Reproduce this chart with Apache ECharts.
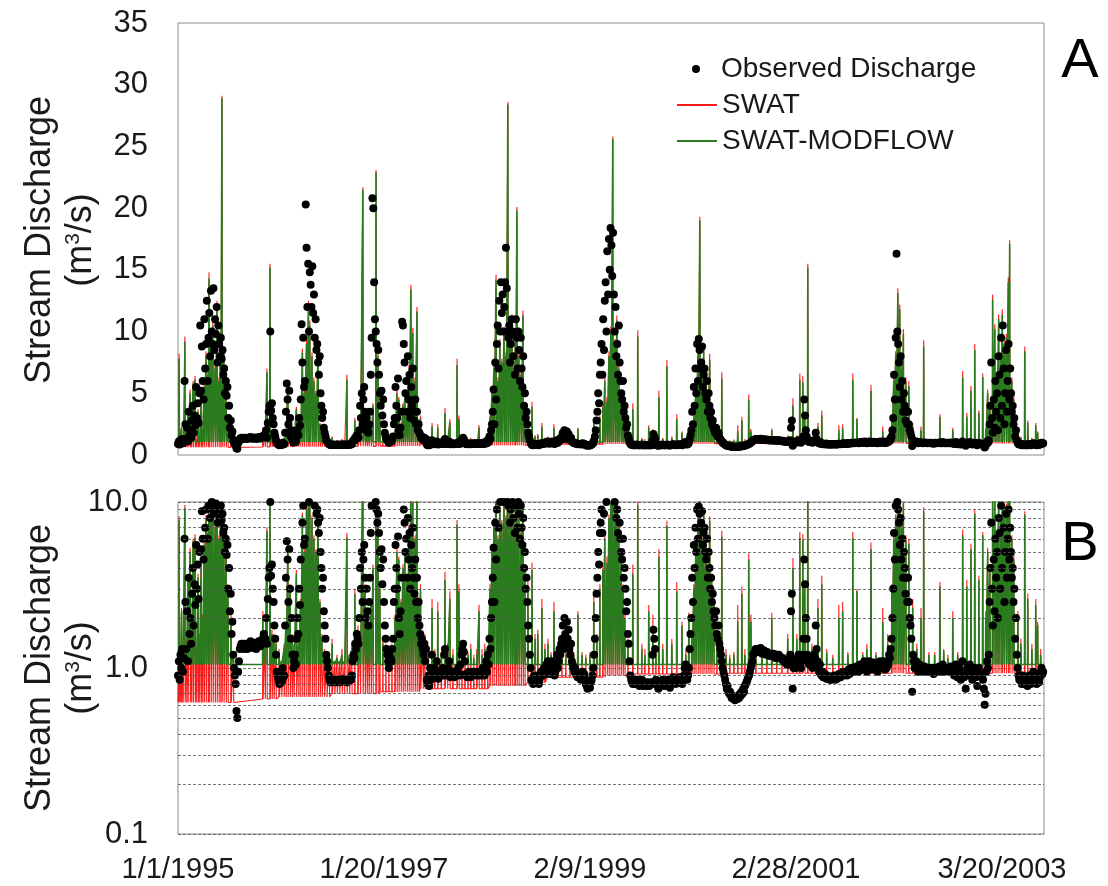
<!DOCTYPE html>
<html>
<head>
<meta charset="utf-8">
<script src="https://cdn.jsdelivr.net/npm/echarts@6/dist/echarts.min.js"></script>
<style>html,body{margin:0;padding:0;background:#fff}#c{width:1108px;height:886px}</style>
</head>
<body>
<div id="c"></div>
<script>
// ---------------- DATA ----------------
// x values are days counted from 1/1/1995
const END_DAY = 3153;
const xTickLabels = ['1/1/1995', '1/20/1997', '2/9/1999', '2/28/2001', '3/20/2003'];
const yTicksA = [0, 5, 10, 15, 20, 25, 30, 35];
const yTicksB = [0.1, 1.0, 10.0];
const minorGridB = [0.2, 0.3, 0.4, 0.5, 0.6, 0.7, 0.8, 0.9, 2, 3, 4, 5, 6, 7, 8, 9];

// Observed discharge (m3/s), one reading every 3 days, consecutive blocks of 122 readings
const OBS_STEP = 3;
const obs1995 = [0.9,1.1,0.85,1.2,1.0,1.3,0.95,1.15, 6.0,2.5, 1.3,2.2,1.1,3.5,1.6,2.0,1.4,2.8,
 4.0,1.8,3.2,2.4,5.5,3.0,4.2,2.6,5.0, 10.5,5.2,8.8,6.0,4.5,11.0,7.0,9.0,12.5,6.0,
 9.5,11.5,8.0,13.3,10.0,9.0,13.5,8.5,11.0,9.8,12.0,7.5,10.5,9.0,8.0,
 9.5,7.8,8.5,6.5,7.0,5.0,6.0,4.8,5.5,3.0,4.0, 2.2,2.8,1.6,1.9,1.2, 1.0,0.9,0.8,0.55,0.5,0.95,
 1.1,1.3,1.35,1.4,1.35,1.4,1.3,1.35,1.4,1.35,1.3,1.4,1.35,1.4,1.45,1.38,1.32,1.4,1.36,1.42,1.35,1.3,1.38,1.4,1.45,1.4,1.35,1.42,1.48,
 1.5,1.6,1.45,1.5,2.0,1.4,2.6,3.5,4.0,10.0,3.6,4.2,3.0,2.5,1.8,1.5,1.2,0.95,0.9];
const obs1996 = [0.85,0.8,0.9,0.85,0.82,1.0,0.88,0.9, 1.8,3.5,5.8,4.5,2.5,5.2,3.0,1.5,2.0,1.2,
 1.0,1.1,1.2,1.05,1.5,2.0,1.6,3.0,2.4,4.5, 10.6,7.5,9.5,5.5,6.0,20.3,16.8,12.0,15.5,10.0,14.8,
 13.8,12.0,15.3,11.5,13.0,9.5,11.0,8.5,9.0,7.5,6.5,8.0, 5.0,4.0,3.0,3.5,2.2,1.8,1.5,1.2,1.1,1.0,0.9,0.85,
 0.82,0.84,0.83,0.85,0.82,0.84,0.83,0.82,0.84,0.85,0.83,0.82,0.84,0.83,0.85,0.84,0.86,0.83,0.85,0.84,0.82,0.85,0.83,0.84,0.86,0.85,0.9,
 1.1,1.2,1.15,1.4,1.3,1.6,1.5,1.4,2.0,4.0,3.0,5.0,2.5,4.5,5.5,3.5,2.0,3.0,2.2,1.8,2.5,3.5,6.5,9.5,
 20.8,20.0,14.0,11.0,10.0,9.0,7.5,8.5];
const obs1997 = [6.5,5.0,4.0,5.2,3.2,4.5,2.5,1.8, 1.5,1.3,1.2,1.1,1.0,1.2,1.15,1.1,1.3,
 1.5,2.5,3.0,5.5,4.0,3.0,6.2,2.0,1.6,2.2,3.5,
 10.8,10.5,9.0,7.5,5.0,6.0,3.5,8.0,4.5,6.5,3.0,5.5,4.0,7.0,3.5,2.8,4.5,2.5,
 3.5,2.0,2.5,1.8,1.6,1.4,1.5,1.3,1.2,
 1.4,1.1,1.3,0.85,0.8,0.9,0.78,1.0,0.85,1.2,0.95,0.9,1.0,0.88,0.92,1.1,0.9,0.86,0.95,0.9,
 0.9,0.95,1.0,0.9,1.2,1.3,0.95,0.9,0.92,1.0,1.1,0.9,0.88,0.92,0.95,0.9,0.88,0.92,0.94,0.9,
 0.96,1.0,0.92,0.9,1.05,1.2,1.3,1.4,1.25,1.1,0.92,0.9,0.88,0.9,0.95,0.9,0.88,0.9,0.92,0.95,
 0.9,0.93,0.95,0.92,0.9,0.93,0.95];
const obs1998 = [0.9,0.92,0.95,0.9,1.0,0.95,0.9,1.0,1.1,0.95,1.2,1.05,1.5,1.3,2.0,2.5,
 3.5,5.3,2.5,7.5,4.5,9.0,10.5,7.0,12.5,10.0,14.0,11.5,13.0,10.0,12.0,14.0,16.8,13.5,10.0,
 9.5,10.5,7.5,9.0,11.0,10.0,8.0,9.8,6.5,11.0,9.5,7.0,10.0,8.5,6.0,
 9.5,7.0,5.5,8.0,4.0,5.0,3.0,3.5,2.5,1.8,
 1.5,1.2,1.0,0.85,0.82,0.8,0.9,0.85,0.82,0.88,0.9,0.84,0.8,0.86,0.9,0.95,
 0.95,0.9,1.0,0.92,0.98,1.05,0.95,1.1,1.0,0.92,1.0,1.05,1.1,0.95,1.0,0.9,0.95,1.05,1.2,1.0,1.1,1.3,1.2,1.4,
 1.5,1.8,1.3,2.0,1.6,1.4,1.9,1.5,1.7,1.3,1.2,1.4,1.1,1.05,1.0,0.95,1.0,0.92, 0.9,0.88,0.92,0.9];
const obs1999 = [0.9,0.85,0.9,0.95,0.88,0.92,0.85,0.8,0.78,0.75,0.78,0.8,0.76,0.82,0.85,
 0.9,1.0,1.2,1.5,2.0,2.8,3.5,5.0,4.2,6.5,
 7.5,9.0,6.5,11.0,8.5,12.5,14.0,10.0,16.5,13.0,17.5,15.0,18.4,17.0,14.5,18.0,
 13.0,10.0,12.0,8.0,9.0,6.5,10.5,7.5,6.0, 5.0,4.5,6.0,3.5,4.0,3.0,2.2,2.5,1.6,1.4,
 1.1,0.9,0.85,0.82,0.8,0.85,0.8,0.82,0.8,0.85,0.82,0.8,0.78,0.8,0.82,0.85,0.8,0.78,0.8,0.82,0.8,0.78,0.82,
 0.8,0.78,0.8,0.82,0.8,1.2,1.7,1.5,1.3,0.85,0.8,0.78,0.75,0.8,0.82,0.78,0.8,0.85,0.82,0.8,
 0.78,0.8,0.82,0.85,0.8,0.78,0.76,0.8,0.82,0.85,0.88,0.85,0.82,0.8,0.84,0.86,0.82,0.85,0.88];
const obs2000 = [0.85,0.82,0.8,0.85,0.9,1.0,1.05,0.88,0.85,0.9,1.0,1.3,1.6,2.0,
 3.5,2.5,5.5,4.0,7.0,5.0,9.0,6.0,9.4,8.5,7.0,7.5,8.8,5.5,6.5,7.0,5.0,4.5,6.0,3.5,5.0,4.0,3.0,3.5,2.5,2.8,2.2,
 2.0,1.8,2.2,1.6,1.5,1.8,1.4,1.3,1.2,1.1,1.0,0.95,0.9,0.85,
 0.8,0.75,0.78,0.72,0.7,0.72,0.68,0.66,0.68,0.65,0.66,0.64,0.65,0.66,0.65,0.68,0.66,0.7,0.68,0.72,
 0.7,0.75,0.72,0.78,0.8,0.82,0.85,0.88,0.9,0.95,1.0,1.05,1.1,1.2,
 1.22,1.25,1.3,1.28,1.3,1.25,1.28,1.3,1.32,1.25,1.22,1.25,1.28,1.25,1.22,1.2,1.25,1.22,1.2,1.18,
 1.22,1.2,1.18,1.2,1.22,1.18,1.15,1.2,1.18,1.15,1.2,1.18,1.15];
const obs2001 = [1.15,1.12,1.15,1.1,1.12,1.08,1.1,1.05,
 1.1,1.05,1.1,1.2,2.2,2.8,0.75,1.0,1.1,1.05,1.0,1.1,1.15,1.2,1.1,1.05,1.0,1.1,1.2,1.5,4.5,3.2,2.0,1.5,1.2,1.1,1.05,1.15,
 1.1,1.05,1.0,1.1,1.2,1.15,1.8,1.3,1.1,1.0,0.95,1.05,0.92,0.9,0.95,0.88,0.9,0.92,0.88,0.86,0.9,
 0.88,0.86,0.85,0.87,0.85,0.88,0.86,0.9,0.88,0.85,0.87,0.86,0.88,0.92,0.9,0.88,0.9,0.92,0.95,0.9,
 0.93,0.95,0.92,0.9,0.95,0.98,0.92,0.95,1.0,0.95,0.98,1.0,0.95,0.98,1.02,0.97,1.0,0.95,1.0,1.05,
 1.0,1.05,0.98,1.0,1.1,1.05,1.0,0.95,1.0,1.05,1.1,1.0,0.98,1.05,1.0,1.08,1.02,0.98,1.0,1.05,0.95,1.0,1.05,1.1,1.0];
const obs2002 = [1.0,1.05,1.1,1.0,0.98,1.05,1.0,1.1,1.05,1.2,1.15,1.3,1.5,2.0,
 3.0,6.5,4.5,9.5,16.3,10.0,9.0,7.5,5.5,8.0,4.5,6.0,3.5,5.0,4.0,2.8,3.5,2.5,
 3.5,2.5,2.0,1.8,1.5,0.72,1.2,1.1,
 1.0,1.05,1.1,1.0,0.95,1.0,1.05,1.0,0.98,1.0,0.95,1.0,1.02,0.98,1.0,0.95,0.98,1.0,0.97,0.95,
 1.0,0.98,0.95,0.92,0.95,1.0,0.98,0.95,0.97,1.0,1.02,0.98,0.95,1.0,1.05,0.98,0.95,0.97,1.0,0.96,
 0.98,1.0,0.95,0.98,1.02,0.96,0.95,
 0.95,0.9,1.0,1.05,0.92,0.88,0.9,1.0,0.95,0.85,0.9,1.1,0.95,0.88,0.9,0.75,0.92,1.0,0.95,0.9,
 1.05,0.98,0.92,0.85,0.9,1.0,0.95,0.88,0.92,0.78,0.95,1.0,0.92,0.9,0.88];
const obs2003 = [0.9,0.85,0.75,0.6,0.7,0.95,1.1,1.0,
 1.2,2.5,4.0,7.5,3.0,1.8,4.5,2.2,6.0,3.5,5.0,2.0,8.0,6.5,3.0,9.5,4.0,10.5,7.0,2.5,5.0,8.5,3.5,6.0,9.0,4.5,7.0,5.0,
 3.5,4.0,2.5,3.0,1.5,2.0,1.2,1.0,0.9,0.85,0.9,
 0.85,0.8,0.9,0.85,0.8,0.82,0.88,0.8,0.78,0.85,0.9,0.82,0.8,0.85,0.9,0.95,0.92,0.88,0.82,0.8,
 0.85,0.9,0.82,0.88,0.95,1.0,0.92,0.95];

// Simulated runoff events: [day, SWAT-MODFLOW peak, SWAT peak]
const ev1995 = [[2,1.3,1.35],[4,7.8,8.2],[9,1.2,1.3],[13,2.2,2.3],[18,1.1,1.1],[25,9.2,9.6],[31,1.4,1.5],[36,3.4,3.6],[44,5.0,5.3],[49,1.3,1.4],[55,5.8,6.0],[62,6.1,6.4],[67,1.2,1.3],[73,3.5,3.7],[78,1.5,1.6],[84,4.0,4.2],[89,2.0,2.1],[95,5.5,5.8],[102,8.0,8.4],[109,6.5,6.8],[113,14.3,14.8],[120,9.0,9.4],[127,10.5,11.0],[135,7.0,7.3],[142,12.0,12.5],[149,6.0,6.3],[155,9.5,9.9],[160,28.9,29.1],[167,8.3,8.7],[175,5.0,5.3],[182,3.0,3.2],[193,2.0,2.1],[202,1.2,1.25],
 [309,2.0,2.2],[317,1.5,1.6],[324,6.7,7.0],[335,15.2,15.5],[342,1.6,1.7],[349,1.5,1.6],[357,1.4,1.5]];
const ev1996 = [[368,1.2,1.3],[377,1.1,1.1],[386,1.3,1.4],[393,1.8,1.9],[400,5.8,6.1],[408,3.0,3.2],[415,1.5,1.6],[422,1.3,1.4],[431,3.7,3.9],[439,1.4,1.5],[446,2.5,2.6],[453,8.3,8.6],[460,5.0,5.2],[468,9.0,9.3],[475,12.1,12.5],[480,10.5,10.9],[488,8.0,8.3],[495,6.0,6.3],[502,5.0,5.2],[510,8.5,8.9],[517,2.5,2.6],[524,1.5,1.6],[533,1.2,1.3],[542,1.1,1.15],[551,1.2,1.2],[561,1.4,1.5],[570,1.1,1.1],[579,1.15,1.2],[588,1.1,1.1],[597,1.2,1.3],[606,1.1,1.1],[615,6.1,6.5],[624,1.2,1.2],[633,1.3,1.4],[644,2.8,3.0],[655,1.7,1.8],[664,1.5,1.6],[673,21.5,21.7],[681,3.0,3.2],[688,2.2,2.3],[695,1.8,1.9],[703,2.5,2.6],[710,4.0,4.2],[721,22.9,23.1],[728,8.0,8.3]];
const ev1997 = [[735,3.0,3.2],[746,1.4,1.5],[757,1.3,1.4],[768,1.2,1.3],[779,1.3,1.4],[790,2.0,2.1],[797,5.0,5.3],[804,4.5,4.7],[812,2.5,2.6],[819,4.0,4.2],[826,5.0,5.2],[834,3.5,3.7],[841,7.0,7.3],[848,13.4,13.8],[855,9.9,10.3],[863,6.0,6.3],[870,11.6,12.0],[877,2.5,2.7],[883,3.0,3.2],[892,1.4,1.5],[899,1.5,1.6],[910,1.2,1.3],[925,2.3,2.6],[935,1.2,1.3],[946,2.2,2.5],[959,1.2,1.25],[972,3.4,3.8],[981,1.3,1.4],[990,2.6,2.9],[1001,1.2,1.3],[1016,7.3,7.8],[1023,2.9,3.2],[1034,1.2,1.3],[1045,1.3,1.4],[1056,1.2,1.25],[1066,1.3,1.4],[1077,1.15,1.2],[1088,1.2,1.3]];
const ev1998 = [[1096,2.2,2.4],[1107,1.2,1.3],[1117,1.3,1.4],[1128,1.2,1.25],[1136,3.0,3.2],[1143,5.0,5.3],[1150,7.0,7.3],[1158,14.2,14.6],[1165,6.0,6.3],[1172,9.0,9.4],[1179,7.5,7.8],[1187,10.0,10.4],[1194,8.0,8.3],[1201,28.4,28.6],[1209,9.5,9.9],[1216,11.0,11.4],[1223,7.0,7.3],[1228,9.0,9.3],[1234,19.8,20.1],[1241,8.0,8.3],[1249,6.5,6.8],[1256,11.3,11.7],[1263,4.0,4.2],[1274,3.0,3.3],[1289,3.9,4.3],[1300,1.5,1.6],[1310,1.6,1.7],[1325,2.3,2.6],[1336,1.3,1.4],[1347,1.4,1.5],[1358,1.2,1.25],[1369,2.2,2.5],[1383,1.2,1.25],[1398,1.15,1.2],[1412,1.2,1.25],[1427,1.15,1.2],[1441,1.2,1.25],[1456,2.1,2.2]];
const ev1999 = [[1471,1.2,1.25],[1485,1.15,1.2],[1500,1.2,1.25],[1514,2.5,2.8],[1525,1.5,1.6],[1536,3.0,3.2],[1547,3.9,4.3],[1554,6.0,6.3],[1562,4.3,4.7],[1569,8.0,8.4],[1576,10.0,10.4],[1583,25.6,25.8],[1591,9.0,9.4],[1598,10.9,11.3],[1605,7.0,7.3],[1613,5.0,5.2],[1620,3.0,3.2],[1627,2.0,2.1],[1638,1.4,1.5],[1656,3.7,4.2],[1674,9.6,10.1],[1689,1.3,1.4],[1700,1.2,1.3],[1714,2.2,2.4],[1729,1.6,2.1],[1740,1.2,1.3],[1751,4.7,5.2],[1765,1.3,1.4],[1780,7.2,7.7],[1798,1.4,1.5],[1816,2.9,3.3],[1835,1.8,1.9],[1849,1.2,1.3],[1860,2.0,2.15]];
const ev2000 = [[1871,1.5,1.6],[1878,3.0,3.2],[1885,5.0,5.3],[1893,8.0,8.4],[1900,19.0,19.3],[1907,6.0,6.3],[1914,8.5,8.9],[1922,5.5,5.8],[1929,4.0,4.2],[1936,7.7,8.2],[1943,3.5,3.7],[1951,2.5,2.7],[1962,1.5,1.6],[1980,6.2,6.7],[1995,1.2,1.3],[2009,1.15,1.2],[2024,1.2,1.25],[2038,1.9,2.4],[2053,2.8,3.1],[2064,1.2,1.3],[2078,4.5,4.9],[2086,1.9,2.1],[2104,1.15,1.2],[2126,1.2,1.25],[2144,1.15,1.2],[2162,2.0,2.15],[2180,1.2,1.25]];
const ev2001 = [[2199,1.15,1.2],[2220,1.5,1.6],[2239,4.0,4.6],[2253,1.5,1.6],[2264,6.1,6.6],[2275,5.9,6.4],[2282,3.0,3.2],[2293,15.2,15.5],[2308,1.3,1.4],[2330,2.3,2.6],[2344,3.2,3.6],[2362,1.24,1.3],[2384,1.15,1.2],[2406,2.0,2.4],[2420,2.2,2.5],[2439,1.2,1.25],[2457,6.1,6.6],[2472,2.9,3.0],[2493,1.2,1.25],[2508,1.3,1.4],[2523,5.2,5.7],[2541,1.2,1.25]];
const ev2002 = [[2566,1.9,2.3],[2584,1.4,1.6],[2599,3.0,3.2],[2606,6.0,6.3],[2613,8.0,8.4],[2621,13.1,13.5],[2628,11.8,12.2],[2635,7.0,7.3],[2641,9.8,10.2],[2650,5.9,6.3],[2661,5.6,6.0],[2675,2.3,2.6],[2690,1.3,1.4],[2705,2.0,2.3],[2715,8.8,9.3],[2734,1.2,1.25],[2755,1.2,1.25],[2774,3.1,3.3],[2788,1.27,1.3],[2803,1.15,1.2],[2821,2.0,2.2],[2839,1.2,1.25],[2857,6.3,6.8],[2872,3.1,3.4],[2887,5.2,5.6],[2901,8.5,9.0],[2916,3.4,3.6]];
const ev2003 = [[2930,6.3,6.6],[2941,2.0,2.2],[2948,5.0,5.3],[2956,4.0,4.2],[2966,12.6,13.0],[2974,10.2,10.6],[2981,6.0,6.3],[2988,11.0,11.4],[2996,8.0,8.3],[3001,11.4,11.8],[3008,9.0,9.3],[3016,9.5,9.8],[3023,14.0,14.4],[3028,17.1,17.4],[3036,6.0,6.3],[3043,4.5,4.8],[3058,2.0,2.2],[3069,1.4,1.5],[3083,8.4,8.8],[3094,2.6,2.8],[3109,1.3,1.4],[3123,2.4,2.6],[3130,1.8,1.9],[3141,1.2,1.3]];

// Baseflow between events
const smBaseflow = 1.05;                       // SWAT-MODFLOW
const swatBaseflow = [[0,0.62],[207,0.65],[364,0.67],[553,0.70],[735,0.72],[880,0.75],[1130,0.78],[1270,0.82],[1340,0.88],[1560,0.90],[1640,0.92],[2000,0.93]]; // SWAT [from day, value]

// ---------------- BUILD ----------------
const events = [].concat(ev1995, ev1996, ev1997, ev1998, ev1999, ev2000, ev2001, ev2002, ev2003);
function swatBaseAt(d) { let v = swatBaseflow[0][1]; for (const s of swatBaseflow) { if (s[0] <= d) v = s[1]; } return v; }
function buildModel(peakIdx, baseFn) {
  const out = [[0, baseFn(0)]];
  for (const e of events) { const b = baseFn(e[0]); out.push([e[0] - 1, b], [e[0], e[peakIdx]], [e[0] + 1, b]); }
  out.push([END_DAY, baseFn(END_DAY)]);
  return out;
}
const smData = buildModel(1, () => smBaseflow);
const swatData = buildModel(2, swatBaseAt);
const obsData = [];
{ let k = 0; [obs1995, obs1996, obs1997, obs1998, obs1999, obs2000, obs2001, obs2002, obs2003].forEach(ch => ch.forEach(v => { obsData.push([k * OBS_STEP, v]); k++; })); }

// ---------------- CHART ----------------
const FONT = '"Liberation Sans", Arial, Helvetica, sans-serif';
const TXT = '#1a1a1a';
const RED = '#ff1a1a';
const GREEN = '#2a7a1e';
const chart = echarts.init(document.getElementById('c'), null, { renderer: 'canvas' });

function lineSeries(name, data, color, ax, z, w) {
  return { name, type: 'line', data, xAxisIndex: ax, yAxisIndex: ax, symbol: 'none', showSymbol: false,
    lineStyle: { color, width: w, opacity: 1 }, itemStyle: { color }, z, silent: true, clip: true };
}
function obsSeries(ax) {
  return { name: 'Observed Discharge', type: 'scatter', data: obsData, xAxisIndex: ax, yAxisIndex: ax,
    symbol: 'circle', symbolSize: 8, itemStyle: { color: '#000', opacity: 1 }, z: 4, silent: true, clip: true };
}
const xFmt = v => { const i = v / 750; return Number.isInteger(i) && xTickLabels[i] ? xTickLabels[i] : ''; };
function vText(x, y, text, size, rich) {
  const style = { text, fontSize: size, fontFamily: FONT, fill: TXT, align: 'center', verticalAlign: 'middle', textAlign: 'center', textVerticalAlign: 'middle' };
  if (rich) style.rich = rich;
  return { type: 'text', x, y, rotation: Math.PI / 2, style };
}
const supRich = { sup: { fontSize: 21, fontFamily: FONT, fill: TXT, verticalAlign: 'top', lineHeight: 36 } };

const option = {
  animation: false,
  backgroundColor: '#fff',
  textStyle: { fontFamily: FONT },
  grid: [
    { left: 178, top: 23, width: 866, height: 432, show: true, borderColor: '#8c8c8c', borderWidth: 1, outerBoundsMode: 'none' },
    { left: 178, top: 502, width: 866, height: 332, show: true, borderColor: '#8c8c8c', borderWidth: 1, outerBoundsMode: 'none' }
  ],
  xAxis: [
    { gridIndex: 0, type: 'value', min: 0, max: END_DAY, interval: 750, axisLine: { show: false }, axisTick: { show: false },
      axisLabel: { show: false }, splitLine: { show: false } },
    { gridIndex: 1, type: 'value', min: 0, max: END_DAY, interval: 750, axisLine: { show: false }, axisTick: { show: false },
      splitLine: { show: false },
      axisLabel: { fontSize: 29, color: TXT, margin: 21, fontFamily: FONT, showMaxLabel: false, formatter: xFmt } }
  ],
  yAxis: [
    { gridIndex: 0, type: 'value', min: yTicksA[0], max: yTicksA[yTicksA.length - 1], interval: 5,
      axisLine: { show: false }, axisTick: { show: false }, splitLine: { show: false },
      axisLabel: { fontSize: 31, color: TXT, margin: 30, fontFamily: FONT } },
    { gridIndex: 1, type: 'log', logBase: 10, min: yTicksB[0], max: yTicksB[2],
      axisLine: { show: false }, axisTick: { show: false },
      splitLine: { show: true, lineStyle: { type: [3, 2], color: '#555', width: 0.8 } },
      axisLabel: { fontSize: 31, color: TXT, margin: 30, fontFamily: FONT, formatter: v => Number(v).toFixed(1) } }
  ],
  legend: [
    { left: 687, top: 50, orient: 'vertical', itemWidth: 8, itemHeight: 8, itemGap: 8,
      textStyle: { fontSize: 28, color: TXT, fontFamily: FONT, padding: [0, 0, 0, 16] },
      data: [{ name: 'Observed Discharge', icon: 'circle' }], selectedMode: false },
    { left: 672, top: 86, orient: 'vertical', itemWidth: 40, itemHeight: 2, itemGap: 8,
      textStyle: { fontSize: 28, color: TXT, fontFamily: FONT },
      data: [{ name: 'SWAT', icon: 'rect' }, { name: 'SWAT-MODFLOW', icon: 'rect' }], selectedMode: false }
  ],
  graphic: [
    vText(40, 240, 'Stream Discharge', 36),
    vText(81, 240, '(m{sup|3}/s)', 36, supRich),
    vText(40, 668, 'Stream Discharge', 36),
    vText(81, 668, '(m{sup|3}/s)', 36, supRich),
    { type: 'text', x: 1080, y: 62, style: { text: 'A', fontSize: 56, fontFamily: FONT, fill: '#000', align: 'center', verticalAlign: 'middle', textAlign: 'center', textVerticalAlign: 'middle' } },
    { type: 'text', x: 1080, y: 545, style: { text: 'B', fontSize: 56, fontFamily: FONT, fill: '#000', align: 'center', verticalAlign: 'middle', textAlign: 'center', textVerticalAlign: 'middle' } }
  ],
  series: [
    lineSeries('SWAT', swatData, RED, 0, 2, 1.1),
    lineSeries('SWAT-MODFLOW', smData, GREEN, 0, 3, 1.6),
    obsSeries(0),
    { type: 'line', data: [], xAxisIndex: 1, yAxisIndex: 1, z: 1, silent: true, symbol: 'none',
      markLine: { silent: true, symbol: ['none', 'none'], label: { show: false }, animation: false,
        lineStyle: { type: [3, 2], color: '#555', width: 0.8 },
        data: minorGridB.map(v => ({ yAxis: v })) } },
    lineSeries('SWAT', swatData, RED, 1, 2, 1.1),
    lineSeries('SWAT-MODFLOW', smData, GREEN, 1, 3, 1.6),
    obsSeries(1)
  ]
};
chart.setOption(option);
</script>
</body>
</html>
